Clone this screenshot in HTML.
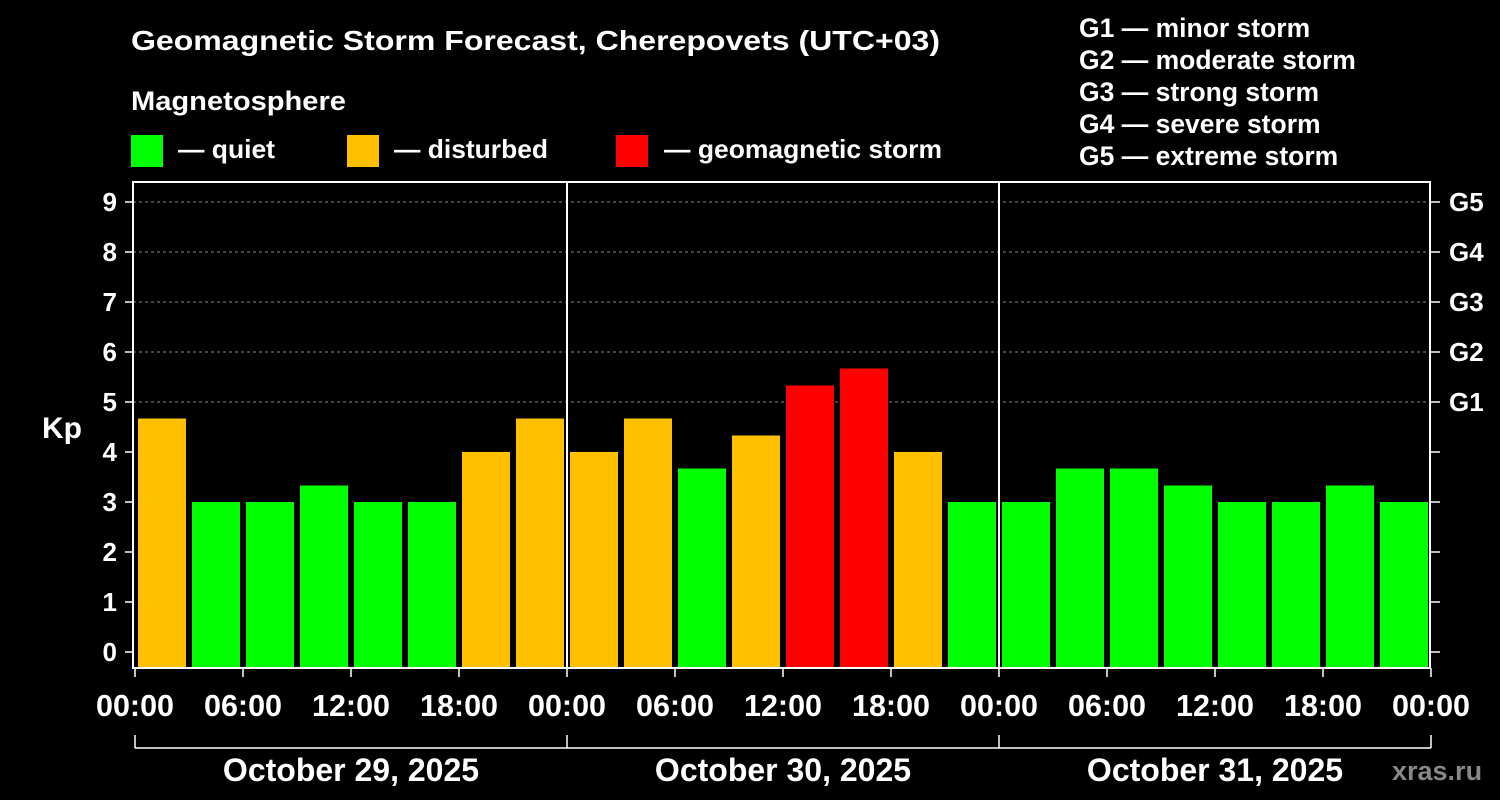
<!DOCTYPE html>
<html><head><meta charset="utf-8"><style>
body{margin:0;background:#000;width:1500px;height:800px;overflow:hidden}
svg{display:block;font-family:"Liberation Sans",Arial,sans-serif;font-weight:bold}
</style></head><body>
<svg id="c" width="1500" height="800">
<text x="131" y="50" fill="#fff" font-size="28" textLength="809" lengthAdjust="spacingAndGlyphs">Geomagnetic Storm Forecast, Cherepovets (UTC+03)</text>
<text x="131" y="110" fill="#fff" font-size="27" textLength="215" lengthAdjust="spacingAndGlyphs">Magnetosphere</text>
<g><rect x="131" y="135" width="32" height="32" fill="#00ff00"/><text x="178" y="158" fill="#fff" font-size="26" textLength="97" lengthAdjust="spacingAndGlyphs">— quiet</text></g>
<g><rect x="347" y="135" width="32" height="32" fill="#ffc000"/><text x="394" y="158" fill="#fff" font-size="26" textLength="154" lengthAdjust="spacingAndGlyphs">— disturbed</text></g>
<g><rect x="616" y="135" width="32" height="32" fill="#ff0000"/><text x="664" y="158" fill="#fff" font-size="26" textLength="278" lengthAdjust="spacingAndGlyphs">— geomagnetic storm</text></g>
<g fill="#fff" font-size="26.5">
<text x="1079" y="37">G1 — minor storm</text><text x="1079" y="69">G2 — moderate storm</text><text x="1079" y="101">G3 — strong storm</text><text x="1079" y="133">G4 — severe storm</text><text x="1079" y="165">G5 — extreme storm</text></g>
<text x="42" y="438" fill="#fff" font-size="30">Kp</text>
<text x="1392" y="780" fill="#888" font-size="27">xras.ru</text>
<g id="g"></g>
</svg>
<script>
const kpValues=[4.67,3,3,3.33,3,3,4,4.67, 4,4.67,3.67,4.33,5.33,5.67,4,3, 3,3.67,3.67,3.33,3,3,3.33,3];
const dayLabels=["October 29, 2025","October 30, 2025","October 31, 2025"];
const hourLabels=["00:00","06:00","12:00","18:00"];
const gLabels=["G1","G2","G3","G4","G5"];
const NS="http://www.w3.org/2000/svg",g=document.getElementById("g");
const X0=135,DAY=432,L=133,R=1430,T=182,B=668;
const y=v=>652-v*50, x=h=>X0+h*DAY/24;
function el(t,a,txt){const e=document.createElementNS(NS,t);for(const k in a)e.setAttribute(k,a[k]);if(txt!=null)e.textContent=txt;g.appendChild(e);return e;}
for(let k=0;k<=9;k++){
 if(k>=5){const l=el("line",{x1:L,x2:R,y1:y(k),y2:y(k),stroke:"#888","stroke-dasharray":"3,3"});}
 const t=el("text",{x:117,y:y(k)+9,fill:"#fff","font-size":26,"text-anchor":"end"},k);
 el("line",{x1:125,x2:L,y1:y(k),y2:y(k),stroke:"#fff","stroke-width":1.5});
 el("line",{x1:R,x2:1440,y1:y(k),y2:y(k),stroke:"#fff","stroke-width":1.5});
}
gLabels.forEach((s,i)=>{const t=el("text",{x:1449,y:y(i+5)+9,fill:"#fff","font-size":26},s);});
kpValues.forEach((v,i)=>{const c=v>=5?"#ff0000":v>=4?"#ffc000":"#00ff00";
 const r=el("rect",{x:x(i*3)+3,y:y(v),width:48,height:B-y(v),fill:c});
 });
el("rect",{x:L,y:T,width:R-L,height:B-T,fill:"none",stroke:"#fff","stroke-width":2});
for(let d=1;d<3;d++)el("line",{x1:x(d*24),x2:x(d*24),y1:T,y2:B,stroke:"#fff","stroke-width":2});
for(let h=0;h<=72;h+=6){el("line",{x1:x(h),x2:x(h),y1:B,y2:677,stroke:"#fff","stroke-width":1.5});
 const t=el("text",{x:x(h),y:716,fill:"#fff","font-size":30.5,"text-anchor":"middle"},hourLabels[(h/6)%4]);}
el("line",{x1:x(0),x2:x(72),y1:748,y2:748,stroke:"#fff","stroke-width":1.5});
for(let d=0;d<=3;d++)el("line",{x1:x(d*24),x2:x(d*24),y1:735,y2:748,stroke:"#fff","stroke-width":1.5});
dayLabels.forEach((s,i)=>{const t=el("text",{x:x(i*24+12),y:781,fill:"#fff","font-size":32,"text-anchor":"middle"},s);});
</script>
</body></html>
